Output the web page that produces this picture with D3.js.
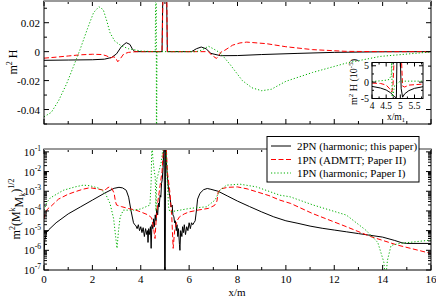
<html>
<head>
<style>
  body { margin: 0; background: white; }
  svg { display: block; }
  text { font-family: "Liberation Serif", "DejaVu Serif", serif; fill: black; }
</style>
<script src="https://cdn.jsdelivr.net/npm/d3@7/dist/d3.min.js"></script>
</head>
<body>
<div class="chart"></div>
<script>
// ---- data ----
// top panel: m^2 H against x/m
var top2PN = [[0,-0.006],[1,-0.0058],[2,-0.0056],[2.5,-0.0052],[2.8,-0.004],[3.0,-0.0015],[3.2,0.0035],[3.4,0.0062],
  [3.55,0.005],[3.65,0.002],[3.75,0],[4.88,0],[4.92,0.05],[5.06,0.05],[5.1,0],[6.1,0],[6.3,0.002],[6.5,0.0032],
  [6.7,0.002],[6.9,-0.0012],[7.3,-0.0028],[8,-0.0027],[9,-0.002],[10.5,-0.0012],[12,-0.0005],[14,-0.0001],[16,0]];
var topADM = [[0,-0.0045],[0.5,-0.0038],[1,-0.003],[1.5,-0.0022],[2,-0.0018],[2.4,-0.002],[2.6,-0.003],[2.75,-0.0045],
  [2.85,-0.0035],[2.95,-0.004],[3.05,-0.007],[3.15,-0.005],[3.3,-0.0015],[3.5,-0.0005],[3.8,0],[4.88,0],[4.93,0.05],
  [5.07,0.05],[5.1,0],[6.8,0],[6.93,-0.0024],[7.13,-0.0047],[7.34,0],[7.48,0.001],[7.8,0.0045],[8.1,0.006],[8.38,0.0066],
  [9.2,0.0055],[10,0.0034],[11.1,0.0014],[12.5,0.0002],[14,0],[16,0]];
var topHarm1 = [[0,-0.045],[0.3,-0.042],[0.6,-0.034],[0.94,-0.022],[1.2,-0.011],[1.49,0.0014],[1.8,0.016],[2.05,0.027],
  [2.27,0.031],[2.45,0.029],[2.6,0.021],[2.73,0.013],[2.93,0.0072],[3.2,0.004],[3.5,0.002],[3.7,0.0014],[4,0.0004],
  [4.6,0],[4.64,0.1],[4.65,-0.1],[4.67,0],[6.3,0],[6.5,0.001],[6.8,0.0037],[7,0.002],[7.3,-0.001],[7.7,-0.009],
  [8.2,-0.02],[8.6,-0.025],[9,-0.027],[9.4,-0.026],[10,-0.0205],[11.1,-0.0144],[12.5,-0.0079],[13.9,-0.0033],[16,-0.0002]];

// inset: m^2 H in units of 1e-5, x from 4 to 5.8
var in2PN = [[4,-1.3],[4.3,-1.8],[4.5,-2.4],[4.65,-3.2],[4.8,-4.5],[4.86,-4.8],[4.88,7],[5.0,7],[5.03,-2],[5.08,-4.6],
  [5.15,-3.6],[5.3,-2.6],[5.5,-1.9],[5.8,-1.4]];
var inADM = [[4,-0.3],[4.3,-0.4],[4.5,-0.9],[4.62,-2],[4.7,-3],[4.74,-1],[4.78,7],[5.04,7],[5.08,-1.2],[5.15,-1.5],
  [5.3,-0.9],[5.8,-0.6]];
var inHarm1 = [[4,0.2],[4.3,0.4],[4.5,0.6],[4.6,0.8],[4.68,2],[4.7,7],[4.71,-7],[4.74,-4],[4.8,-1],[5.0,0.3],[5.8,0.3]];

// bottom panel: log10 of m^2 (M^k M_k)^(1/2) against x/m
var bot2PN = [[0,-6.2],[0.03,-5.5],[0.1,-5.1],[0.2,-4.95],[0.5,-4.6],[1,-4.15],[1.5,-3.8],[2,-3.45],[2.5,-3.1],[2.9,-2.85],
  [3.1,-2.8],[3.25,-2.83],[3.4,-2.95],[3.5,-3.3],[3.6,-4.0],[3.7,-4.6],[3.75,-4.7],[3.8,-4.75],[3.85,-4.9],[3.9,-4.7],
  [3.95,-5.0],[4,-4.8],[4.05,-5.1],[4.1,-4.85],[4.15,-5.3],[4.2,-4.9],[4.25,-5.2],[4.28,-5.0],[4.3,-5.6],[4.33,-4.9],
  [4.37,-5.2],[4.4,-4.8],[4.43,-5.9],[4.46,-4.7],[4.5,-4.9],[4.53,-4.4],[4.56,-4.8],[4.6,-4.2],[4.63,-4.5],[4.66,-3.9],
  [4.7,-4.2],[4.73,-3.6],[4.76,-3.8],[4.8,-3.2],[4.83,-3.3],[4.86,-2.6],[4.89,-2.4],[4.92,-1.8],[4.95,-1.0],[4.97,-0.5],
  [4.99,-8],[5.01,-8],[5.03,-0.5],[5.05,-1.2],[5.08,-1.9],[5.12,-2.5],[5.15,-2.9],[5.18,-3.1],[5.22,-3.4],[5.25,-3.8],
  [5.3,-3.7],[5.33,-4.2],[5.37,-4.3],[5.4,-4.6],[5.43,-4.5],[5.47,-5.0],[5.5,-4.7],[5.53,-5.3],[5.56,-4.9],[5.6,-5.7],
  [5.62,-6.0],[5.65,-5.0],[5.7,-5.3],[5.73,-4.8],[5.77,-5.1],[5.8,-4.7],[5.85,-5.2],[5.9,-4.8],[5.95,-5.0],[6,-4.6],
  [6.05,-4.9],[6.1,-4.6],[6.15,-4.7],[6.2,-4.6],[6.25,-4.5],[6.3,-4.0],[6.35,-3.4],[6.45,-3.1],[6.6,-2.92],[6.75,-2.86],
  [6.9,-2.9],[7.2,-3.0],[7.6,-3.25],[8,-3.5],[8.5,-3.78],[9,-4.05],[9.5,-4.3],[10,-4.5],[10.5,-4.63],[11,-4.77],
  [11.5,-4.88],[12,-4.97],[12.5,-5.06],[13,-5.15],[13.5,-5.24],[14,-5.33],[14.5,-5.5],[14.8,-5.62],[15,-5.65],[16,-5.65]];
var botADM = [[0,-4.4],[0.05,-4.1],[0.15,-3.9],[0.3,-3.75],[0.6,-3.4],[1,-3.15],[1.3,-3.02],[1.6,-2.9],[1.9,-2.82],
  [2.2,-2.88],[2.4,-2.93],[2.5,-2.98],[2.6,-2.85],[2.7,-2.78],[2.8,-2.85],[2.9,-3.1],[2.95,-3.5],[3,-3.7],[3.2,-3.78],
  [3.5,-3.88],[3.8,-3.96],[4,-4.05],[4.3,-4.2],[4.45,-4.35],[4.52,-4.8],[4.59,-5.4],[4.63,-4.6],[4.7,-3.6],[4.8,-2.7],
  [4.88,-2.0],[4.95,-0.6],[5.05,-0.6],[5.1,-2.0],[5.2,-3.0],[5.28,-4.2],[5.34,-5.9],[5.4,-5.0],[5.5,-4.5],[5.6,-4.3],
  [5.8,-4.15],[6,-4.05],[6.4,-3.95],[6.8,-3.87],[7.05,-3.72],[7.15,-3.5],[7.2,-3.05],[7.3,-2.88],[7.6,-2.8],[8,-2.78],
  [8.4,-2.88],[8.8,-3.03],[9.3,-3.22],[9.75,-3.45],[10.2,-3.62],[11.1,-4.13],[12.5,-4.8],[13.5,-5.3],[14.6,-5.73],[16,-6.16]];
var botHarm1 = [[0,-3.96],[0.1,-3.6],[0.25,-3.35],[0.45,-3.2],[0.8,-2.95],[1.28,-2.78],[1.62,-2.69],[1.9,-2.72],
  [2.31,-2.86],[2.55,-3.15],[2.73,-3.62],[2.88,-4.4],[2.97,-5.4],[3.02,-5.9],[3.08,-5.0],[3.15,-4.3],[3.28,-3.96],
  [3.69,-3.96],[4,-3.9],[4.38,-3.7],[4.43,-2.5],[4.46,-0.5],[4.5,-1.3],[4.55,-1.9],[4.6,-2.3],[4.63,-4.0],[4.66,-2.4],
  [4.75,-2.0],[4.85,-1.5],[4.95,-0.5],[5.05,-0.8],[5.1,-2.5],[5.15,-3.8],[5.2,-4.05],[5.62,-3.96],[6.03,-3.87],
  [6.72,-3.79],[7.07,-3.45],[7.27,-2.95],[7.55,-2.69],[8.1,-2.64],[8.79,-2.78],[9.75,-3.2],[10.17,-3.28],[11.13,-3.7],
  [12.5,-4.21],[13.3,-4.97],[13.8,-5.6],[14.05,-6.6],[14.12,-7.5],[14.2,-6.5],[14.35,-5.75],[14.7,-5.65],[16,-5.48]];

var xTickLabels = [0, 2, 4, 6, 8, 10, 12, 14, 16];
var topYTickLabels = [0.02, 0, -0.02, -0.04];
var botYExponents = [-1, -2, -3, -4, -5, -6, -7];
var insetXTickLabels = [4, 4.5, 5, 5.5];
var insetYTickLabels = [5, 0, -5];
var legendLabels = ["2PN (harmonic; this paper)", "1PN (ADMTT; Paper II)", "1PN (harmonic; Paper I)"];

// ---- layout ----
var W = 436, H = 297;
var green = "#00b000";
var styles = [
  {color: "black", dash: null},
  {color: "#ff0000", dash: "5,2.5"},
  {color: green, dash: "1.2,2"}
];

var x = d3.scaleLinear().domain([0, 16]).range([44, 431]);
var yTop = d3.scaleLinear().domain([-0.05, 0.035]).range([124, 1]);
var yBot = d3.scaleLog().domain([1e-7, 0.14]).range([270, 149]);
var xIn = d3.scaleLinear().domain([4, 5.8]).range([372, 423]);
var yIn = d3.scaleLinear().domain([-5, 6]).range([98.5, 62.5]);

var svg = d3.select(".chart").append("svg")
  .attr("width", W).attr("height", H);

svg.append("rect").attr("width", W).attr("height", H).attr("fill", "white");

function clipRect(id, x0, y0, x1, y1) {
  svg.append("clipPath").attr("id", id).append("rect")
    .attr("x", x0).attr("y", y0).attr("width", x1 - x0).attr("height", y1 - y0);
}
clipRect("cTop", 44, 1, 431, 124);
clipRect("cBot", 44, 149, 431, 270);
clipRect("cIn", 372, 62.5, 423, 98.5);

function drawCurve(g, data, xs, ys, st, clip) {
  var line = d3.line().x(function(d) { return xs(d[0]); }).y(function(d) { return ys(d[1]); });
  g.append("path")
    .datum(data)
    .attr("clip-path", "url(#" + clip + ")")
    .attr("d", line)
    .attr("fill", "none")
    .attr("stroke", st.color)
    .attr("stroke-width", 1)
    .attr("stroke-dasharray", st.dash);
}

// ticks pointing inward on all four sides
function tickSet(g, vals, pos, fixed, len, vertical) {
  vals.forEach(function(v) {
    var p = pos(v);
    if (vertical) {
      g.append("line").attr("x1", p).attr("x2", p).attr("y1", fixed).attr("y2", fixed + len);
    } else {
      g.append("line").attr("y1", p).attr("y2", p).attr("x1", fixed).attr("x2", fixed + len);
    }
  });
}

function frame(g, x0, y0, x1, y1, topGray) {
  g.append("rect").attr("x", x0).attr("y", y0).attr("width", x1 - x0).attr("height", y1 - y0)
    .attr("fill", "none").attr("stroke", "black").attr("stroke-width", 1);
  if (topGray) {
    g.append("line").attr("x1", x0).attr("x2", x1).attr("y1", y0).attr("y2", y0)
      .attr("stroke", "#999").attr("stroke-width", 2);
  }
}

var xMajor = d3.range(0, 17, 2), xMinor = d3.range(1, 16, 2);

// ---------- top panel ----------
var gTop = svg.append("g");
drawCurve(gTop, top2PN, x, yTop, styles[0], "cTop");
drawCurve(gTop, topADM, x, yTop, styles[1], "cTop");
drawCurve(gTop, topHarm1, x, yTop, styles[2], "cTop");

var gTopAx = svg.append("g").attr("stroke", "black").attr("stroke-width", 1);
tickSet(gTopAx, xMajor, x, 124, -5, true);
tickSet(gTopAx, xMinor, x, 124, -3, true);
tickSet(gTopAx, xMajor, x, 1, 5, true);
tickSet(gTopAx, xMinor, x, 1, 3, true);
tickSet(gTopAx, [-0.04, -0.02, 0, 0.02], yTop, 44, 5, false);
tickSet(gTopAx, [-0.05, -0.03, -0.01, 0.01, 0.03], yTop, 44, 3, false);
tickSet(gTopAx, [-0.04, -0.02, 0, 0.02], yTop, 431, -5, false);
tickSet(gTopAx, [-0.05, -0.03, -0.01, 0.01, 0.03], yTop, 431, -3, false);
frame(svg, 44, 1, 431, 124, true);

svg.selectAll("text.topy")
  .data(topYTickLabels)
  .enter().append("text")
  .attr("class", "topy")
  .attr("x", 40)
  .attr("y", function(d) { return yTop(d) + 4; })
  .attr("text-anchor", "end")
  .attr("font-size", 11)
  .text(function(d) { return d === 0 ? "0" : d.toFixed(2); });

var lt = svg.append("text").attr("transform", "translate(17,62) rotate(-90)")
  .attr("text-anchor", "middle").attr("font-size", 12);
lt.append("tspan").text("m");
lt.append("tspan").attr("dy", -5).attr("font-size", 8).text("2");
lt.append("tspan").attr("dy", 5).text(" H");

// ---------- inset ----------
svg.append("rect").attr("x", 372).attr("y", 62.5).attr("width", 51).attr("height", 36).attr("fill", "white");
var gIn = svg.append("g");
drawCurve(gIn, in2PN, xIn, yIn, styles[0], "cIn");
drawCurve(gIn, inADM, xIn, yIn, styles[1], "cIn");
drawCurve(gIn, inHarm1, xIn, yIn, styles[2], "cIn");
var gInAx = svg.append("g").attr("stroke", "black").attr("stroke-width", 1);
tickSet(gInAx, [4, 4.5, 5, 5.5], xIn, 98.5, -4, true);
tickSet(gInAx, [4.25, 4.75, 5.25, 5.75], xIn, 98.5, -2, true);
tickSet(gInAx, [4, 4.5, 5, 5.5], xIn, 62.5, 4, true);
tickSet(gInAx, [4.25, 4.75, 5.25, 5.75], xIn, 62.5, 2, true);
tickSet(gInAx, [-5, 0, 5], yIn, 372, 4, false);
tickSet(gInAx, [-2.5, 2.5], yIn, 372, 2, false);
tickSet(gInAx, [-5, 0, 5], yIn, 423, -4, false);
tickSet(gInAx, [-2.5, 2.5], yIn, 423, -2, false);
frame(svg, 372, 62.5, 423, 98.5, false);

svg.selectAll("text.inx")
  .data(insetXTickLabels)
  .enter().append("text")
  .attr("class", "inx")
  .attr("x", function(d) { return xIn(d); })
  .attr("y", 109)
  .attr("text-anchor", "middle")
  .attr("font-size", 9.5)
  .text(function(d) { return d; });
svg.selectAll("text.iny")
  .data(insetYTickLabels)
  .enter().append("text")
  .attr("class", "iny")
  .attr("x", 369)
  .attr("y", function(d) { return yIn(d) + 3.5; })
  .attr("text-anchor", "end")
  .attr("font-size", 10)
  .text(function(d) { return d === -5 ? "-5" : d; });

var ixl = svg.append("text").attr("x", 396).attr("y", 119.5).attr("text-anchor", "middle").attr("font-size", 9.5);
ixl.append("tspan").text("x/m");
ixl.append("tspan").attr("dy", 2).attr("font-size", 6.5).text("1");
var iyl = svg.append("text").attr("transform", "translate(357,82) rotate(-90)")
  .attr("text-anchor", "middle").attr("font-size", 10);
iyl.append("tspan").text("m");
iyl.append("tspan").attr("dy", -4).attr("font-size", 7).text("2");
iyl.append("tspan").attr("dy", 4).text(" H (10");
iyl.append("tspan").attr("dy", -4).attr("font-size", 7).text("-5");
iyl.append("tspan").attr("dy", 4).text(")");

// ---------- bottom panel ----------
function pow10(d) { return [d[0], Math.pow(10, d[1])]; }
var gBot = svg.append("g");
drawCurve(gBot, bot2PN.map(pow10), x, yBot, styles[0], "cBot");
drawCurve(gBot, botADM.map(pow10), x, yBot, styles[1], "cBot");
drawCurve(gBot, botHarm1.map(pow10), x, yBot, styles[2], "cBot");

var logMinor = [];
d3.range(-7, 0).forEach(function(e) {
  for (var k = 2; k <= 9; k++) {
    var v = k * Math.pow(10, e);
    if (v < 0.14) logMinor.push(v);
  }
});
var logMajor = botYExponents.map(function(e) { return Math.pow(10, e); });

var gBotAx = svg.append("g").attr("stroke", "black").attr("stroke-width", 1);
tickSet(gBotAx, xMajor, x, 270, -5, true);
tickSet(gBotAx, xMinor, x, 270, -3, true);
tickSet(gBotAx, xMajor, x, 149, 5, true);
tickSet(gBotAx, xMinor, x, 149, 3, true);
tickSet(gBotAx, logMajor, yBot, 44, 5, false);
tickSet(gBotAx, logMinor, yBot, 44, 3, false);
tickSet(gBotAx, logMajor, yBot, 431, -5, false);
tickSet(gBotAx, logMinor, yBot, 431, -3, false);
frame(svg, 44, 149, 431, 270, true);

svg.selectAll("text.botx")
  .data(xTickLabels)
  .enter().append("text")
  .attr("class", "botx")
  .attr("x", function(d) { return x(d); })
  .attr("y", 283)
  .attr("text-anchor", "middle")
  .attr("font-size", 11)
  .text(function(d) { return d; });

botYExponents.forEach(function(e) {
  var t = svg.append("text")
    .attr("x", 41)
    .attr("y", yBot(Math.pow(10, e)) + 4)
    .attr("text-anchor", "end")
    .attr("font-size", 11);
  t.append("tspan").text("10");
  t.append("tspan").attr("dy", -5).attr("font-size", 7.5).text(e);
});

var by = svg.append("text").attr("transform", "translate(20,209) rotate(-90)")
  .attr("text-anchor", "middle").attr("font-size", 12);
by.append("tspan").text("m");
by.append("tspan").attr("dy", -5).attr("font-size", 8).text("2");
by.append("tspan").attr("dy", 5).text("(M");
by.append("tspan").attr("dy", -5).attr("font-size", 8).text("k");
by.append("tspan").attr("dy", 8).text("M");
by.append("tspan").attr("dy", 2).attr("font-size", 8).text("k");
by.append("tspan").attr("dy", -5).text(")");
by.append("tspan").attr("dy", -6).attr("font-size", 8).text("1/2");

svg.append("text").attr("x", 237).attr("y", 296).attr("text-anchor", "middle")
  .attr("font-size", 11).text("x/m");

// ---------- legend ----------
var leg = svg.append("g");
leg.append("rect").attr("x", 267).attr("y", 136.5).attr("width", 152).attr("height", 45.5)
  .attr("fill", "white").attr("stroke", "black").attr("stroke-width", 1);
legendLabels.forEach(function(lab, i) {
  var yy = 146 + i * 13.5;
  leg.append("line").attr("x1", 271).attr("x2", 291).attr("y1", yy).attr("y2", yy)
    .attr("stroke", styles[i].color).attr("stroke-width", 1).attr("stroke-dasharray", styles[i].dash);
  leg.append("text").attr("x", 297).attr("y", yy + 4).attr("font-size", 11).text(lab);
});
</script>
</body>
</html>
